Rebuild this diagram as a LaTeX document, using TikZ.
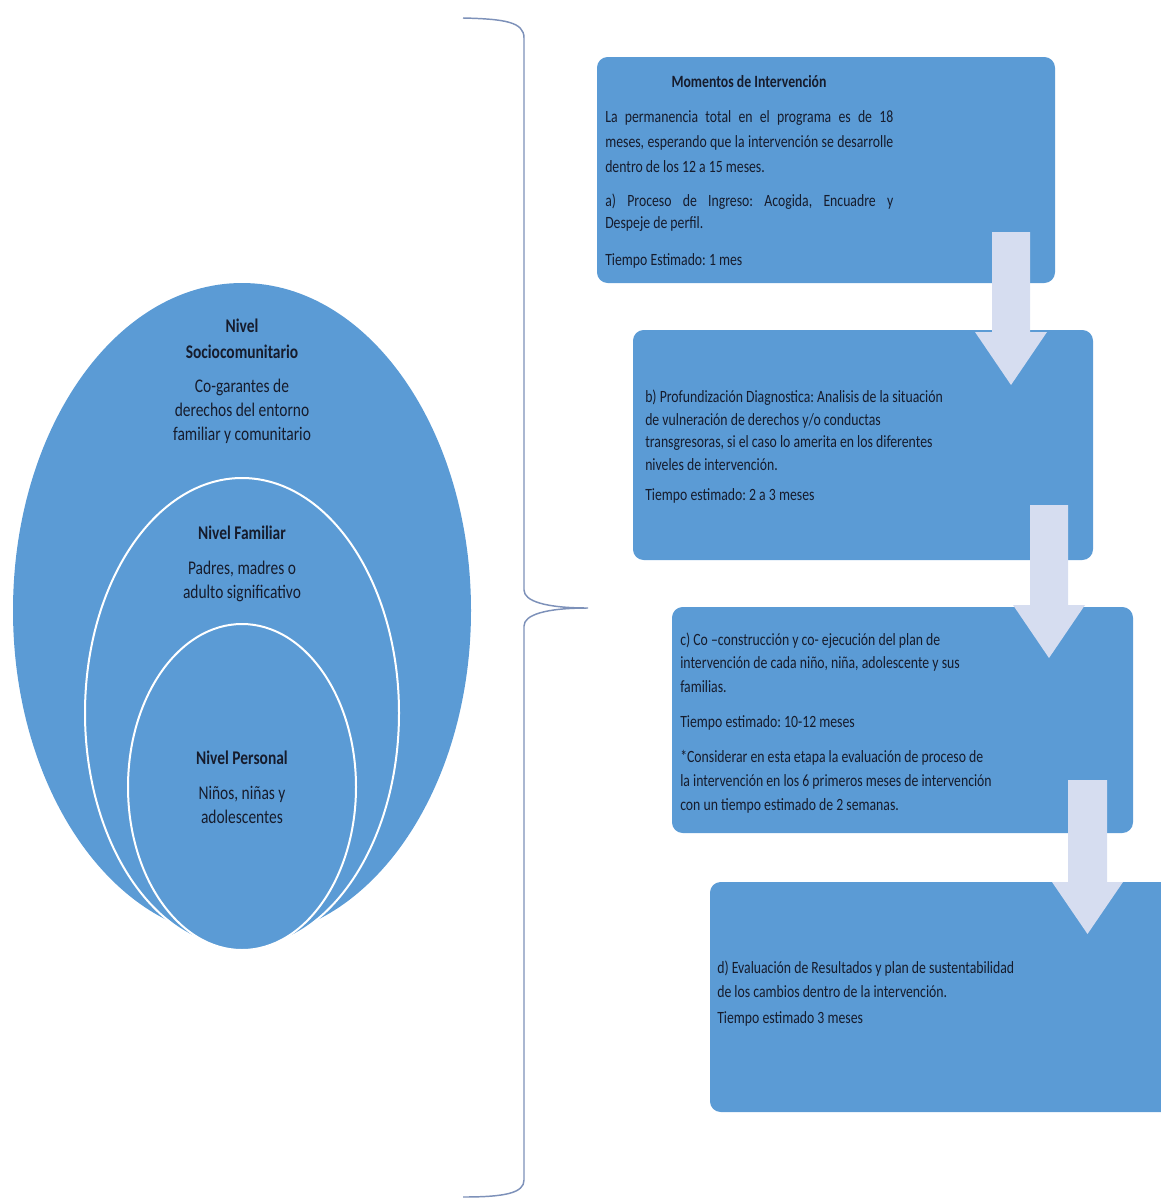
\documentclass[tikz,border=0pt]{standalone}
\usepackage{fontspec}
\setmainfont[FakeStretch=0.8]{Carlito}
\usetikzlibrary{fit}
\definecolor{stageblue}{RGB}{91,155,213}
\definecolor{arrowlav}{RGB}{214,221,240}
\definecolor{bracegray}{RGB}{125,145,185}
\definecolor{inktext}{RGB}{22,28,45}
\frenchspacing

\begin{document}
\begin{tikzpicture}[x=0.75pt,y=0.75pt,yscale=-1,xscale=1,
	stagebox/.style={fill=stageblue, rounded corners=8pt, inner sep=0pt},
	ring/.style={fill=stageblue, draw=white, line width=1.5pt},
	boxtext/.style={anchor=base west, inner sep=0pt, align=left, text=inktext, font=\fontsize{12.9}{17.25}\selectfont},
	leveltext/.style={inner sep=0pt, align=center, text=inktext, font=\fontsize{14.5}{18}\selectfont},
	levelhead/.style={leveltext, font=\fontsize{14.5}{19.5}\selectfont\bfseries},
	flowarrow/.style={fill=arrowlav}]
	\useasboundingbox (0,0) rectangle (1160,1199);
	\draw [bracegray, line width=1.1pt] (463,18) .. controls (505,19) and (524,22) .. (524,38) -- (524,590) .. controls (524,601) and (545,608) .. (588,608) .. controls (545,608) and (524,615) .. (524,626) -- (524,1180) .. controls (524,1193) and (505,1197) .. (463,1197) ;
	\draw [ring, draw=none] (242,610.5) ellipse [x radius=229, y radius=327.5];
	\draw [ring] (242,713) ellipse [x radius=157, y radius=235];
	\draw [ring] (242,787) ellipse [x radius=114, y radius=163];
	\node (socioHead) [levelhead] at (242,339) {Nivel\\Sociocomunitario};
	\node (socioText) [leveltext] at (242,411) {Co-garantes de\\derechos del entorno\\familiar y comunitario};
	\node (famHead) [levelhead] at (242,533) {Nivel Familiar};
	\node (famText) [leveltext] at (242,581) {Padres, madres o\\adulto significativo};
	\node (persHead) [levelhead] at (242,758) {Nivel Personal};
	\node (persText) [leveltext] at (242,804.5) {Niños, niñas y\\adolescentes};
	\node (stageA) [stagebox, fit={(597,57) (1055,283)}] {};
	\node (stageB) [stagebox, fit={(633,330) (1093,560)}] {};
	\node (stageC) [stagebox, fit={(672,607) (1133,833)}] {};
	\node (stageD) [stagebox, fit={(710,882) (1180,1112)}] {};
	\node (momTitle) [boxtext, anchor=base] at (749,87) {\bfseries Momentos de Intervención};
	\node (momText) [boxtext, font=\fontsize{12.9}{18.75}\selectfont] at (605,172) {\makebox[216pt][s]{La permanencia total en el programa es de 18}\\\makebox[216pt][s]{meses, esperando que la intervención se desarrolle}\\dentro de los 12 a 15 meses.};
	\node (ingresoText) [boxtext, font=\fontsize{12.9}{16.2}\selectfont] at (605,228) {\makebox[216pt][s]{a) Proceso de Ingreso: Acogida, Encuadre y}\\Despeje de perfil.};
	\node (ingresoTime) [boxtext] at (605,265) {Tiempo Estimado: 1 mes};
	\node (diagText) [boxtext, font=\fontsize{12.9}{16.8}\selectfont] at (645,470) {b) Profundización Diagnostica: Analisis de la situación\\de vulneración de derechos y/o conductas\\transgresoras, si el caso lo amerita en los diferentes\\niveles de intervención.};
	\node (diagTime) [boxtext] at (645,500) {Tiempo estimado: 2 a 3 meses};
	\node (planText) [boxtext, font=\fontsize{12.9}{17.6}\selectfont] at (680,692) {c) Co –construcción y co- ejecución del plan de\\intervención de cada niño, niña, adolescente y sus\\familias.};
	\node (planTime) [boxtext] at (680,727) {Tiempo estimado: 10-12 meses};
	\node (planNote) [boxtext, font=\fontsize{12.9}{18}\selectfont] at (680,810) {*Considerar en esta etapa la evaluación de proceso de\\la intervención en los 6 primeros meses de intervención\\con un tiempo estimado de 2 semanas.};
	\node (evalText) [boxtext, font=\fontsize{12.9}{18}\selectfont] at (717,997) {d) Evaluación de Resultados y plan de sustentabilidad\\de los cambios dentro de la intervención.};
	\node (evalTime) [boxtext] at (717,1023) {Tiempo estimado 3 meses};
	\fill [flowarrow] (992,232) -- (1030,232) -- (1030,332) -- (1047,332) -- (1011,385) -- (975,332) -- (992,332) -- cycle;
	\fill [flowarrow] (1030,505) -- (1068,505) -- (1068,605) -- (1085,605) -- (1049,658) -- (1013,605) -- (1030,605) -- cycle;
	\fill [flowarrow] (1068,780) -- (1107,780) -- (1107,882) -- (1123,882) -- (1087.5,934) -- (1052,882) -- (1068,882) -- cycle;
\end{tikzpicture}
\end{document}
